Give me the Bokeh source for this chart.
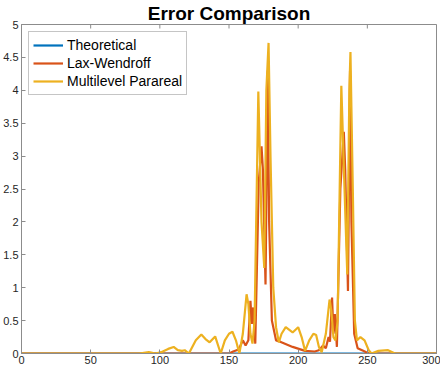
import math
from bokeh.plotting import figure
from bokeh.models import Range1d, FixedTicker, Legend, LegendItem
from bokeh.embed import file_html
from bokeh.resources import INLINE

# ---- data ----
th_x = [0, 50, 100, 150, 200, 250, 300]
th_y = [0, 0, 0, 0, 0, 0, 0]

lw_x = [0, 150, 153, 157, 160, 162, 164, 165.5, 166.5, 167.5, 169, 171.5, 173.5, 174.5,
        176.4, 178, 179, 181, 184, 187, 196, 205, 212, 215, 218, 220, 222, 223, 224.5,
        225.5, 226.5, 228, 230.5, 233, 234, 236, 237.5, 238.5, 240.5, 243, 247, 251, 300]
lw_y = [0, 0, 0.03, 0.06, 0.2, 0.12, 0.2, 0.8, 0.45, 0.7, 0.15, 2.6, 3.15, 2.8,
        1.05, 4.3, 2.0, 0.5, 0.2, 0.18, 0.1, 0.04, 0.03, 0.05, 0.12, 0.08, 0.25, 0.18, 0.85,
        0.3, 0.6, 0.1, 2.5, 3.37, 2.8, 0.95, 4.3, 2.0, 0.3, 0.08, 0.04, 0, 0]

mp_x = [0, 85, 92, 97, 101, 106, 110, 113, 116, 118, 121, 126, 130, 133, 136, 140, 144,
        147, 150, 152.5, 155, 157.5, 160, 162.7, 164, 165.5, 167, 168.5, 171.2, 173.5,
        175.5, 177, 178.6, 180, 182, 184, 186, 188, 191, 196, 200, 202.5, 205, 208, 211,
        213, 215, 217, 220, 222.7, 224, 225.5, 227, 228.5, 231.2, 233.5, 235.5, 237,
        237.8, 239.5, 241, 242.5, 245, 248, 251, 253, 258, 265, 270, 300]
mp_y = [0, 0, 0.02, 0.0, 0.02, 0.07, 0.1, 0.05, 0.04, 0.05, 0.0, 0.2, 0.29, 0.22, 0.17, 0.26, 0.0,
        0.2, 0.3, 0.33, 0.2, 0.0, 0.3, 0.9, 0.75, 0.3, 0.15, 0.5, 3.98, 2.0,
        1.3, 4.0, 4.72, 3.0, 1.0, 0.4, 0.17, 0.3, 0.4, 0.32, 0.4, 0.25, 0.04, 0.2, 0.3,
        0.28, 0.1, 0.02, 0.3, 0.82, 0.65, 0.25, 0.2, 0.5, 4.07, 2.5, 1.2, 4.0,
        4.58, 2.5, 0.5, 0.2, 0.25, 0.2, 0.05, 0.0, 0.04, 0.05, 0.0, 0]

x_ticks = [0, 50, 100, 150, 200, 250, 300]
y_ticks = [0, 0.5, 1, 1.5, 2, 2.5, 3, 3.5, 4, 4.5, 5]
y_tick_labels = ["0", "0.5", "1", "1.5", "2", "2.5", "3", "3.5", "4", "4.5", "5"]
x_min, x_max, y_min, y_max = 0, 300, 0, 5

series_names = ["Theoretical", "Lax-Wendroff", "Multilevel Parareal"]
colors = ["#0072BD", "#D95319", "#EDB120"]

FONT = "Liberation Sans"
AXIS_GRAY = "#8c8c8c"
TEXT = "#262626"

p = figure(width=440, height=366, x_range=Range1d(x_min, x_max), y_range=Range1d(y_min, y_max),
           output_backend="svg", toolbar_location=None,
           min_border_left=20, min_border_right=4, min_border_top=0, min_border_bottom=0,
           title="Error Comparison")
p.title.text_font = FONT
p.title.text_font_size = "19px"
p.title.text_font_style = "bold"
p.title.text_color = "#000000"
p.title.align = "center"
p.title.standoff = 1
p.title.offset = 0

p.grid.visible = False
p.outline_line_color = AXIS_GRAY
p.outline_line_width = 1
p.background_fill_color = "white"
p.border_fill_color = "white"

for ax in (p.xaxis[0], p.yaxis[0]):
    ax.major_tick_in = 4
    ax.major_tick_out = 0
    ax.minor_tick_in = 0
    ax.minor_tick_out = 0
    ax.axis_line_color = AXIS_GRAY
    ax.major_tick_line_color = AXIS_GRAY
    ax.major_label_text_font = FONT
    ax.major_label_text_font_size = "11px"
    ax.major_label_text_color = TEXT
    ax.major_label_standoff = 3

p.xaxis[0].ticker = FixedTicker(ticks=x_ticks)
p.yaxis[0].ticker = FixedTicker(ticks=y_ticks)
p.yaxis[0].major_label_overrides = {v: s for v, s in zip(y_ticks, y_tick_labels)}
p.xaxis[0].major_label_standoff = 2

# tick marks along the top edge of the box (half of each dash is clipped by the frame)
p.scatter(x_ticks, [y_max] * len(x_ticks), marker="dash", angle=math.pi / 2, size=8,
          line_color=AXIS_GRAY, line_width=1)

r1 = p.line(th_x, th_y, line_color=colors[0], line_width=2.2)
r2 = p.line(lw_x, lw_y, line_color=colors[1], line_width=2.2)
r3 = p.line(mp_x, mp_y, line_color=colors[2], line_width=2.2)

legend = Legend(items=[LegendItem(label=series_names[0], renderers=[r1]),
                       LegendItem(label=series_names[1], renderers=[r2]),
                       LegendItem(label=series_names[2], renderers=[r3])],
                location="top_left")
legend.margin = 7
legend.padding = 4
legend.spacing = 0
legend.label_height = 18
legend.glyph_height = 18
legend.glyph_width = 30
legend.label_standoff = 4
legend.label_text_font = FONT
legend.label_text_font_size = "14px"
legend.label_text_color = "#000000"
legend.border_line_color = AXIS_GRAY
legend.border_line_width = 1
legend.background_fill_alpha = 1.0
p.add_layout(legend, "center")

open("out.html", "w").write(file_html(p, INLINE))
